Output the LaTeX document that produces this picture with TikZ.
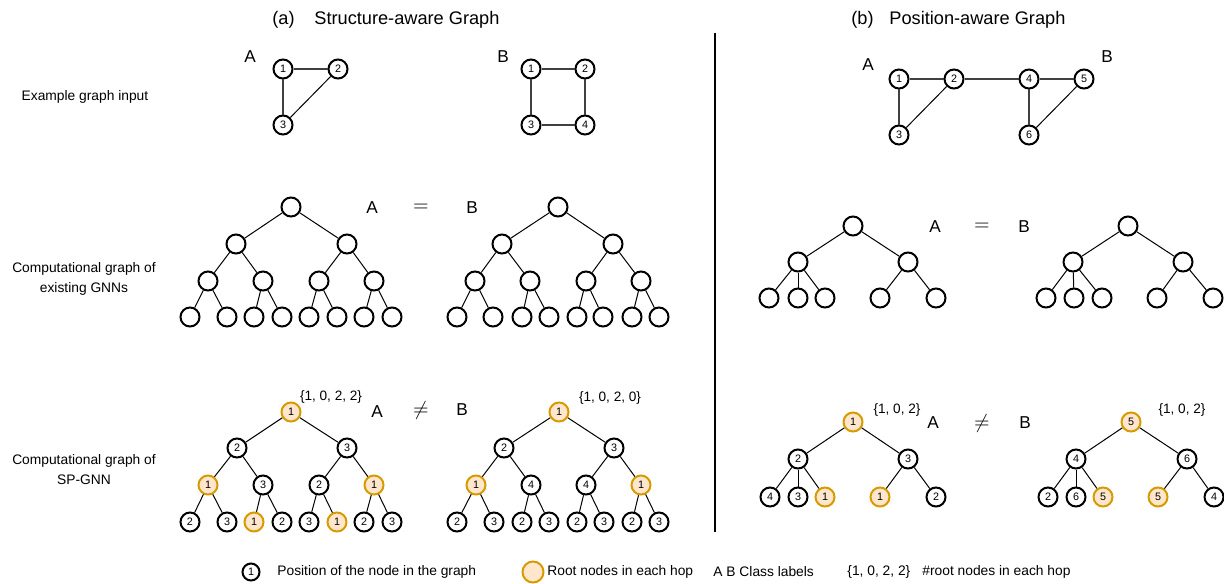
\documentclass[tikz,border=0pt]{standalone}
\usepackage{fontspec}
\setmainfont{Liberation Sans}
\definecolor{orgD}{HTML}{D79B00}
\definecolor{orgF}{HTML}{FFE6CC}
\begin{document}
\begin{tikzpicture}[x=0.5pt,y=-0.5pt,
 nd/.style={circle,draw,line width=1pt,minimum size=9.5pt,inner sep=0pt,font=\fontsize{5.4}{6}\selectfont},
 rt/.style={nd,draw=orgD,fill=orgF},
 ed/.style={line width=0.5pt},
 gedge/.style={line width=0.7pt,draw=black!75},
 lbl/.style={font=\fontsize{6.9}{10}\selectfont,align=center,inner sep=0pt},
 leg/.style={font=\fontsize{6.9}{8}\selectfont,anchor=west,inner sep=0pt},
 cls/.style={font=\fontsize{8.6}{10}\selectfont,inner sep=0pt},
 ttl/.style={font=\fontsize{9.1}{11}\selectfont,anchor=west,inner sep=0pt},
 cnt/.style={font=\fontsize{6.8}{8}\selectfont,inner sep=0pt},
 rel/.style={font=\fontsize{10}{12}\selectfont,inner sep=0pt}]
\useasboundingbox (0,0) rectangle (1224,583);

% titles
\node[ttl] (ta) at (272,20) {(a)};
\node[ttl] (tat) at (314,20) {Structure-aware Graph};
\node[ttl] (tb) at (851,20) {(b)};
\node[ttl] (tbt) at (889,20) {Position-aware Graph};

% divider
\coordinate (d1) at (715,33);
\coordinate (d2) at (715,532);
\draw[line width=0.6pt] (d1) -- (d2);

% row labels
\node[lbl] (r1) at (85,97) {Example graph input};
\node[lbl] (r2) at (84,279) {Computational graph of\\existing GNNs};
\node[lbl] (r3) at (84,470) {Computational graph of\\SP-GNN};

% ---------- top graphs (a) ----------
\node[cls] (gA) at (250,57) {A};
\node[nd] (a1) at (283,69) {1};
\node[nd] (a2) at (338,69) {2};
\node[nd] (a3) at (283,125) {3};
\draw[gedge] (a1) -- (a2);
\draw[gedge] (a1) -- (a3);
\draw[ed] (a2) -- (a3);

\node[cls] (gB) at (503,57) {B};
\node[nd] (b1) at (531,69) {1};
\node[nd] (b2) at (585,69) {2};
\node[nd] (b3) at (531,125) {3};
\node[nd] (b4) at (585,125) {4};
\draw[gedge] (b1) -- (b2);
\draw[gedge] (b1) -- (b3);
\draw[gedge] (b2) -- (b4);
\draw[gedge] (b3) -- (b4);

% ---------- top graph (b) ----------
\node[cls] (pA) at (868,65) {A};
\node[cls] (pB) at (1107,57) {B};
\node[nd] (p1) at (899,79) {1};
\node[nd] (p2) at (954,79) {2};
\node[nd] (p3) at (899,135) {3};
\node[nd] (p4) at (1029,79) {4};
\node[nd] (p5) at (1084,79) {5};
\node[nd] (p6) at (1029,135) {6};
\draw[gedge] (p1) -- (p2);
\draw[gedge] (p1) -- (p3);
\draw[ed] (p2) -- (p3);
\draw[gedge] (p2) -- (p4);
\draw[gedge] (p4) -- (p5);
\draw[gedge] (p4) -- (p6);
\draw[ed] (p5) -- (p6);

% ---------- middle row (a) ----------
\foreach \n/\x/\y in {1/291/207,2/236/244,3/347/244,4/208/281,5/263/281,6/319/281,7/374/281,
  8/190/317,9/227/317,10/254/317,11/282/317,12/309/317,13/337/317,14/364/317,15/392/317}
  \node[nd] (mA\n) at (\x,\y) {};
\foreach \n/\x/\y in {1/558/207,2/502/244,3/613/244,4/475/281,5/530/281,6/586/281,7/641/281,
  8/457/317,9/493/317,10/522/317,11/549/317,12/577/317,13/603/317,14/632/317,15/659/317}
  \node[nd] (mB\n) at (\x,\y) {};
\foreach \i in {2,...,15}{\pgfmathtruncatemacro\p{\i/2}
  \draw[ed] (mA\p) -- (mA\i); \draw[ed] (mB\p) -- (mB\i);}
\node[cls] (mAl) at (372,208) {A};
\node[rel] (meq) at (421,208) {$=$};
\node[cls] (mBl) at (472,208) {B};

% ---------- middle row (b) ----------
\foreach \n/\x/\y in {1/853/226,2/798/262,3/908/262,4/769/298,5/798/298,6/825/298,7/880/298,8/936/298}
  \node[nd] (nA\n) at (\x,\y) {};
\foreach \n/\x/\y in {1/1128/226,2/1073/262,3/1183/262,4/1046/298,5/1074/298,6/1102/298,7/1157/298,8/1213/298}
  \node[nd] (nB\n) at (\x,\y) {};
\foreach \p/\c in {1/2,1/3,2/4,2/5,2/6,3/7,3/8}{
  \draw[ed] (nA\p) -- (nA\c); \draw[ed] (nB\p) -- (nB\c);}
\node[cls] (nAl) at (935,227) {A};
\node[rel] (neq) at (982,227) {$=$};
\node[cls] (nBl) at (1024,227) {B};

% ---------- bottom row (a) ----------
\foreach \n/\x/\y/\t in {2/237/448/2,3/347/448/3,5/263/485/3,6/319/485/2,
  8/190/522/2,9/227/522/3,11/282/522/2,12/309/522/3,14/364/522/2,15/392/522/3}
  \node[nd] (bA\n) at (\x,\y) {\t};
\foreach \n/\x/\y/\t in {1/291/412/1,4/208/485/1,7/374/485/1,10/254/522/1,13/337/522/1}
  \node[rt] (bA\n) at (\x,\y) {\t};
\foreach \n/\x/\y/\t in {2/504/448/2,3/614/448/3,5/531/485/4,6/586/485/4,
  8/457/522/2,9/494/522/3,10/522/522/2,11/549/522/3,12/577/522/2,13/604/522/3,14/632/522/2,15/659/522/3}
  \node[nd] (bB\n) at (\x,\y) {\t};
\foreach \n/\x/\y/\t in {1/559/412/1,4/476/485/1,7/641/485/1}
  \node[rt] (bB\n) at (\x,\y) {\t};
\foreach \i in {2,...,15}{\pgfmathtruncatemacro\p{\i/2}
  \draw[ed] (bA\p) -- (bA\i); \draw[ed] (bB\p) -- (bB\i);}
\node[cnt] (cA) at (331,397) {\{1, 0, 2, 2\}};
\node[cnt] (cB) at (610,398) {\{1, 0, 2, 0\}};
\node[cls] (bAl) at (377,412) {A};
\node[rel] (bneq) at (421,410) {$\neq$};
\node[cls] (bBl) at (462,410) {B};

% ---------- bottom row (b) ----------
\foreach \n/\x/\y/\t in {2/798/459/2,3/908/459/3,4/770/497/4,5/798/497/3,8/936/497/2}
  \node[nd] (oA\n) at (\x,\y) {\t};
\foreach \n/\x/\y/\t in {1/853/422/1,6/825/497/1,7/880/497/1}
  \node[rt] (oA\n) at (\x,\y) {\t};
\foreach \n/\x/\y/\t in {2/1076/459/4,3/1187/459/6,4/1048/497/2,5/1076/497/6,8/1214/497/4}
  \node[nd] (oB\n) at (\x,\y) {\t};
\foreach \n/\x/\y/\t in {1/1131/422/5,6/1103/497/5,7/1158/497/5}
  \node[rt] (oB\n) at (\x,\y) {\t};
\foreach \p/\c in {1/2,1/3,2/4,2/5,2/6,3/7,3/8}{
  \draw[ed] (oA\p) -- (oA\c); \draw[ed] (oB\p) -- (oB\c);}
\node[cnt] (dA) at (897,410) {\{1, 0, 2\}};
\node[cnt] (dB) at (1182,410) {\{1, 0, 2\}};
\node[cls] (oAl) at (933,423) {A};
\node[rel] (oneq) at (982,423) {$\neq$};
\node[cls] (oBl) at (1025,423) {B};

% ---------- legend ----------
\node[nd,minimum size=8.5pt] (l1) at (251,572) {1};
\node[leg] (l1t) at (277,572) {Position of the node in the graph};
\node[rt,minimum size=10.5pt] (l2) at (533,572) {};
\node[leg] (l2t) at (547,572) {Root nodes in each hop};
\node[leg] (l3t) at (713,572) {A B Class labels};
\node[leg] (l4) at (847,572) {\{1, 0, 2, 2\}};
\node[leg] (l4t) at (922,572) {\#root nodes in each hop};
\end{tikzpicture}
\end{document}
